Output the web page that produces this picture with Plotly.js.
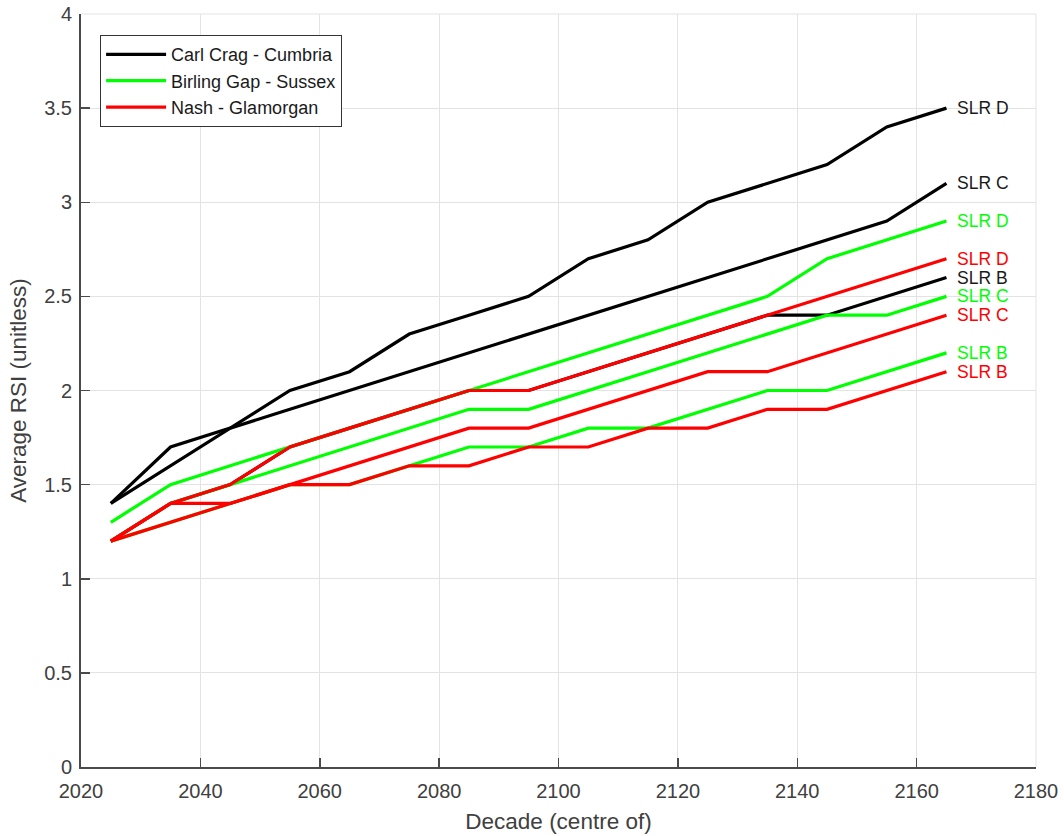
<!DOCTYPE html>
<html>
<head>
<meta charset="utf-8">
<script src="https://cdn.plot.ly/plotly-3.0.1.min.js"></script>
<style>html,body{margin:0;padding:0;background:#fff;}#chart{width:1064px;height:836px;}</style>
</head>
<body>
<div id="chart"></div>
<script>
const decades = [2025, 2035, 2045, 2055, 2065, 2075, 2085, 2095, 2105, 2115, 2125, 2135, 2145, 2155, 2165];

const carlD = [1.4, 1.7, 1.8, 2.0, 2.1, 2.3, 2.4, 2.5, 2.7, 2.8, 3.0, 3.1, 3.2, 3.4, 3.5];
const carlC = [1.4, 1.6, 1.8, 1.9, 2.0, 2.1, 2.2, 2.3, 2.4, 2.5, 2.6, 2.7, 2.8, 2.9, 3.1];
const carlB = [1.2, 1.4, 1.5, 1.7, 1.8, 1.9, 2.0, 2.0, 2.1, 2.2, 2.3, 2.4, 2.4, 2.5, 2.6];

const birlD = [1.3, 1.5, 1.6, 1.7, 1.8, 1.9, 2.0, 2.1, 2.2, 2.3, 2.4, 2.5, 2.7, 2.8, 2.9];
const birlC = [1.2, 1.4, 1.5, 1.6, 1.7, 1.8, 1.9, 1.9, 2.0, 2.1, 2.2, 2.3, 2.4, 2.4, 2.5];
const birlB = [1.2, 1.3, 1.4, 1.5, 1.5, 1.6, 1.7, 1.7, 1.8, 1.8, 1.9, 2.0, 2.0, 2.1, 2.2];

const nashD = [1.2, 1.4, 1.5, 1.7, 1.8, 1.9, 2.0, 2.0, 2.1, 2.2, 2.3, 2.4, 2.5, 2.6, 2.7];
const nashC = [1.2, 1.4, 1.4, 1.5, 1.6, 1.7, 1.8, 1.8, 1.9, 2.0, 2.1, 2.1, 2.2, 2.3, 2.4];
const nashB = [1.2, 1.3, 1.4, 1.5, 1.5, 1.6, 1.6, 1.7, 1.7, 1.8, 1.8, 1.9, 1.9, 2.0, 2.1];

const siteNames = ["Carl Crag - Cumbria", "Birling Gap - Sussex", "Nash - Glamorgan"];
const siteColors = ["#000000", "#00ff00", "#ff0000"];
const siteSeries = [[carlD, carlC, carlB], [birlD, birlC, birlB], [nashD, nashC, nashB]];
const scenarioLabels = ["SLR D", "SLR C", "SLR B"];

const FONT = 'Liberation Sans, Arial, sans-serif';
const traces = [];
const annotations = [];
siteSeries.forEach((series, si) => {
  series.forEach((vals, k) => {
    traces.push({
      x: decades, y: vals, type: 'scatter', mode: 'lines',
      name: siteNames[si], legendgroup: siteNames[si], showlegend: k === 0,
      line: {color: siteColors[si], width: 3.2},
      hoverinfo: 'skip'
    });
    annotations.push({
      x: decades[decades.length - 1] + 1.5, y: vals[vals.length - 1],
      xref: 'x', yref: 'y', xanchor: 'left', yanchor: 'middle',
      text: scenarioLabels[k], showarrow: false,
      font: {family: FONT, size: 17.5, color: siteColors[si] === '#000000' ? '#1a1a1a' : siteColors[si]}
    });
  });
});

const axisCommon = {
  showgrid: true, gridcolor: '#e3e3e3', gridwidth: 1,
  zeroline: false, showline: true, linecolor: '#4a4a4a', linewidth: 2,
  ticks: 'inside', ticklen: 9, tickwidth: 1.5, tickcolor: '#4a4a4a',
  tickfont: {family: FONT, size: 20, color: '#404040'},
  mirror: false
};

const layout = {
  width: 1064, height: 836,
  margin: {l: 81, r: 28, t: 14, b: 69},
  paper_bgcolor: '#ffffff', plot_bgcolor: '#ffffff',
  font: {family: FONT, color: '#404040'},
  xaxis: Object.assign({}, axisCommon, {
    range: [2020, 2180], tick0: 2020, dtick: 20, ticklabelstandoff: 5,
    title: {text: 'Decade (centre of)', font: {size: 22.5, color: '#404040'}, standoff: 12}
  }),
  yaxis: Object.assign({}, axisCommon, {
    range: [0, 4], tick0: 0, dtick: 0.5, ticklabelstandoff: 3,
    title: {text: 'Average RSI (unitless)', font: {size: 22.5, color: '#404040'}, standoff: 11}
  }),
  showlegend: true,
  legend: {
    x: 0.02, y: 0.972, xanchor: 'left', yanchor: 'top',
    bgcolor: '#ffffff', bordercolor: '#333333', borderwidth: 1,
    font: {family: FONT, size: 18, color: '#1a1a1a'},
    tracegroupgap: 0, itemwidth: 60, traceorder: 'normal'
  },
  annotations: annotations,
  shapes: [
    {type: 'line', xref: 'paper', yref: 'paper', x0: 0, x1: 1, y0: 1, y1: 1, line: {color: '#e3e3e3', width: 1}, layer: 'below'},
    {type: 'line', xref: 'paper', yref: 'paper', x0: 1, x1: 1, y0: 0, y1: 1, line: {color: '#e3e3e3', width: 1}, layer: 'below'}
  ]
};

Plotly.newPlot('chart', traces, layout, {displayModeBar: false, staticPlot: true});
</script>
</body>
</html>
